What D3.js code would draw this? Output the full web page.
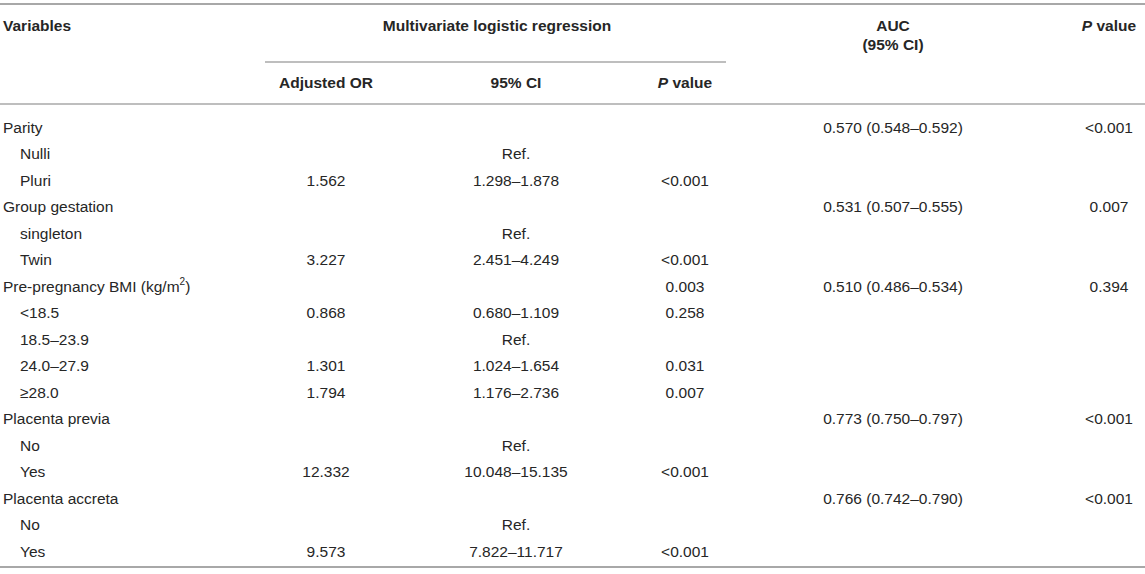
<!DOCTYPE html>
<html>
<head>
<meta charset="utf-8">
<title>Multivariate logistic regression table</title>
<script src="https://d3js.org/d3.v7.min.js"></script>
<style>
  body { margin: 0; background: #fff; }
  svg text { font-family: "Liberation Sans", Arial, Helvetica, sans-serif; fill: #262626; }
</style>
</head>
<body>
<svg id="tbl" width="1145" height="574"></svg>
<script>
// table content, row by row
var variables = ["Parity", "Nulli", "Pluri", "Group gestation", "singleton", "Twin",
  "Pre-pregnancy BMI (kg/m²)", "<18.5", "18.5–23.9", "24.0–27.9", "≥28.0",
  "Placenta previa", "No", "Yes", "Placenta accreta", "No", "Yes"];
var isSub = [0, 1, 1, 0, 1, 1, 0, 1, 1, 1, 1, 0, 1, 1, 0, 1, 1];
var adjustedOR = ["", "", "1.562", "", "", "3.227", "", "0.868", "", "1.301", "1.794",
  "", "", "12.332", "", "", "9.573"];
var ci95 = ["", "Ref.", "1.298–1.878", "", "Ref.", "2.451–4.249", "", "0.680–1.109", "Ref.",
  "1.024–1.654", "1.176–2.736", "", "Ref.", "10.048–15.135", "", "Ref.", "7.822–11.717"];
var pLogit = ["", "", "<0.001", "", "", "<0.001", "0.003", "0.258", "", "0.031", "0.007",
  "", "", "<0.001", "", "", "<0.001"];
var auc = ["0.570 (0.548–0.592)", "", "", "0.531 (0.507–0.555)", "", "", "0.510 (0.486–0.534)",
  "", "", "", "", "0.773 (0.750–0.797)", "", "", "0.766 (0.742–0.790)", "", ""];
var pAuc = ["<0.001", "", "", "0.007", "", "", "0.394", "", "", "", "", "<0.001", "", "", "<0.001", "", ""];

var svg = d3.select("#tbl");
var fs = 15.5;

// row centres
var y = d3.scaleLinear().domain([0, variables.length - 1]).range([127, 551]);

// column anchors
var colOR = 326, colCI = 516, colP = 685, colAUC = 893, colP2 = 1109;

function line(x1, x2, yy, w) {
  svg.append("line").attr("x1", x1).attr("x2", x2).attr("y1", yy).attr("y2", yy)
    .attr("stroke", "#a8a8a8").attr("stroke-width", w);
}

function txt(x, yy, s, anchor, bold) {
  return svg.append("text").attr("x", x).attr("y", yy)
    .attr("text-anchor", anchor || "start")
    .attr("dominant-baseline", "central")
    .attr("font-size", fs)
    .attr("font-weight", bold ? "bold" : "normal")
    .text(s);
}

// rules
line(0, 1145, 4, 2);
line(265, 726, 62, 1.5);
line(0, 1145, 104, 1.5);
line(0, 1145, 567, 2);

// header
txt(3, 25, "Variables", "start", true);
txt(497, 25, "Multivariate logistic regression", "middle", true);
txt(colAUC, 25, "AUC", "middle", true);
txt(colAUC, 44, "(95% CI)", "middle", true);
var ph = txt(colP2, 25, "", "middle", true);
ph.append("tspan").attr("font-style", "italic").text("P");
ph.append("tspan").text(" value");
txt(colOR, 82, "Adjusted OR", "middle", true);
txt(colCI, 82, "95% CI", "middle", true);
var ph2 = txt(colP, 82, "", "middle", true);
ph2.append("tspan").attr("font-style", "italic").text("P");
ph2.append("tspan").text(" value");

// body
variables.forEach(function(v, i) {
  var x0 = isSub[i] ? 20 : 3;
  if (v.indexOf("²") >= 0) {
    var t = txt(x0, y(i), "");
    t.append("tspan").text("Pre-pregnancy BMI (kg/m");
    t.append("tspan").attr("font-size", 10).attr("dy", -5).text("2");
    t.append("tspan").attr("dy", 5).text(")");
  } else {
    txt(x0, y(i), v);
  }
});

function column(arr, x, anchor) {
  arr.forEach(function(s, i) {
    if (s) txt(x, y(i), s, anchor);
  });
}
column(adjustedOR, colOR, "middle");
column(ci95, colCI, "middle");
column(pLogit, colP, "middle");
column(auc, colAUC, "middle");
column(pAuc, colP2, "middle");
</script>
</body>
</html>
